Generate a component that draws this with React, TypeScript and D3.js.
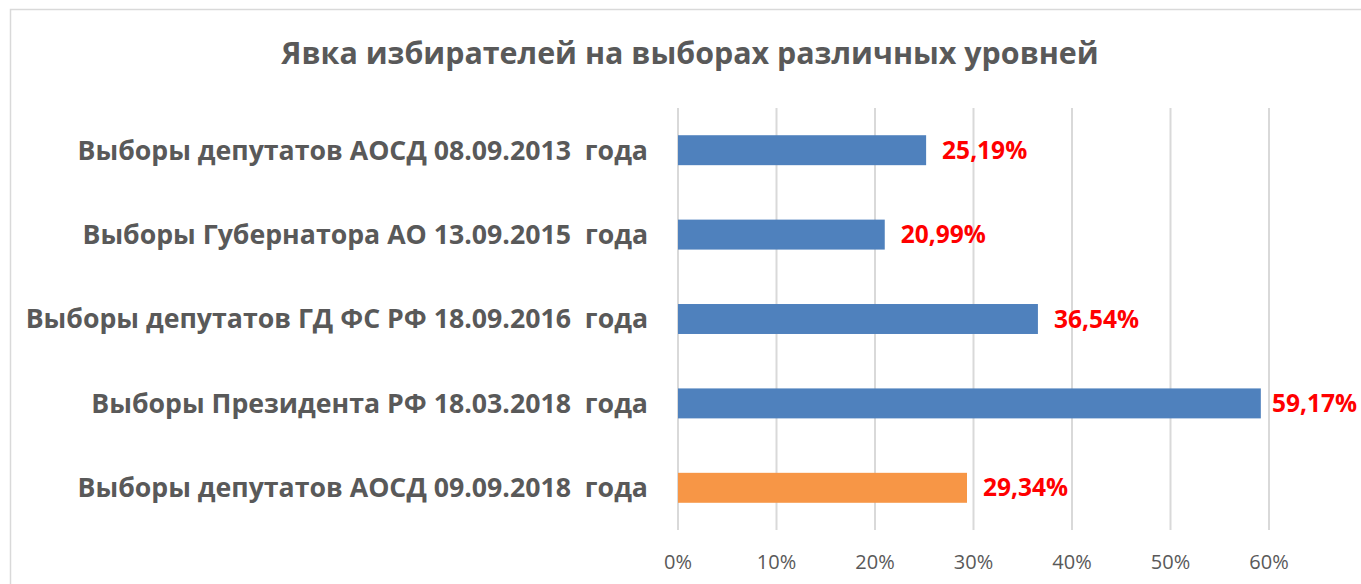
import React from "react";
import * as d3 from "d3";

const categories = [
  "Выборы депутатов АОСД 08.09.2013  года",
  "Выборы Губернатора АО 13.09.2015  года",
  "Выборы депутатов ГД ФС РФ 18.09.2016  года",
  "Выборы Президента РФ 18.03.2018  года",
  "Выборы депутатов АОСД 09.09.2018  года",
];
const values = [25.19, 20.99, 36.54, 59.17, 29.34];
const valueLabels = ["25,19%", "20,99%", "36,54%", "59,17%", "29,34%"];
const barColors = ["#4f81bd", "#4f81bd", "#4f81bd", "#4f81bd", "#f79646"];
const tickValues = [0, 10, 20, 30, 40, 50, 60];
const title = "Явка избирателей на выборах различных уровней";

const W = 1361;
const H = 584;

export default function App() {
  const x = d3.scaleLinear().domain([0, 60]).range([678, 1269]);
  const y = d3.scaleBand<string>().domain(categories).range([108, 530]).paddingInner(0.645).paddingOuter(0.3225);
  const font = "'Open Sans', Lato, sans-serif";
  const labelW = 86;
  const maxRight = 1358;
  return (
    <svg width={W} height={H} style={{ position: "absolute", left: 0, top: 0 }} fontFamily={font}>
      <rect x={0} y={0} width={W} height={H} fill="#fff" />
      <rect x={10.5} y={9.5} width={W + 20} height={H + 20} fill="#fff" stroke="#d9d9d9" strokeWidth={1.5} />
      <text x={690} y={64} textAnchor="middle" fontSize={30.4} fontWeight={700} fill="#595959">{title}</text>
      {tickValues.map((t) => (
        <line key={"g" + t} x1={x(t)} x2={x(t)} y1={108} y2={530} stroke="#d9d9d9" strokeWidth={2} />
      ))}
      {tickValues.map((t) => (
        <text key={"t" + t} x={x(t)} y={569} textAnchor="middle" fontSize={20} fill="#595959">{t + "%"}</text>
      ))}
      {categories.map((c, i) => {
        const yy = y(c)!;
        const bw = y.bandwidth();
        const lx = Math.min(x(values[i]) + 16, maxRight - labelW);
        return (
          <g key={c}>
            <rect x={x(0)} y={yy} width={x(values[i]) - x(0)} height={bw} fill={barColors[i]} />
            <text x={648} y={yy + bw / 2} dy="0.35em" textAnchor="end" fontSize={26.7} fontWeight={700} fill="#595959" style={{ whiteSpace: "pre" }}>{c}</text>
            <text x={lx} y={yy + bw / 2} dy="0.35em" fontSize={24.5} fontWeight={700} fill="#ff0000">{valueLabels[i]}</text>
          </g>
        );
      })}
    </svg>
  );
}
